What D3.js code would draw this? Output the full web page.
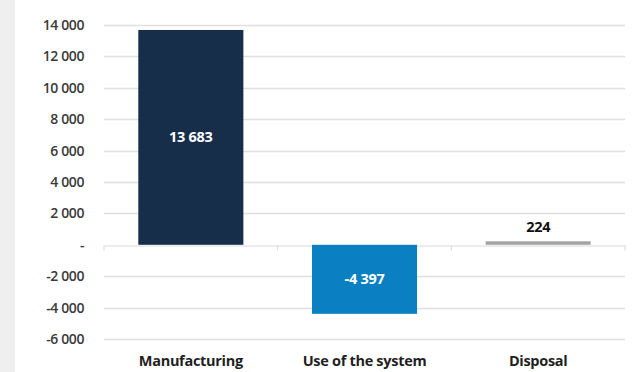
<!DOCTYPE html>
<html>
<head>
<meta charset="utf-8">
<script src="https://cdn.jsdelivr.net/npm/d3@7/dist/d3.min.js"></script>
<style>
  html, body { margin: 0; padding: 0; background: #ffffff; }
  svg { display: block; }
  text { font-family: "Open Sans", "Lato", sans-serif; }
</style>
</head>
<body>
<svg id="chart" width="643" height="372"></svg>
<script>
// Life-cycle phases and their contributions
const categories = ["Manufacturing", "Use of the system", "Disposal"];
const values = [13683, -4397, 224];
const barColors = ["#172e4b", "#0a80c2", "#a5a5a5"];
const tickValues = [14000, 12000, 10000, 8000, 6000, 4000, 2000, 0, -2000, -4000, -6000];

const width = 643, height = 372;
const margin = { top: 25, right: 18, bottom: 33, left: 104 };

const svg = d3.select("#chart");

// light side panel on the left
svg.append("rect")
  .attr("x", 0).attr("y", 0)
  .attr("width", 15).attr("height", height)
  .attr("fill", "#efefef");

const x = d3.scaleBand()
  .domain(categories)
  .range([margin.left, width - margin.right])
  .paddingInner(0.395)
  .paddingOuter(0.1975);

const y = d3.scaleLinear()
  .domain([-6000, 14000])
  .range([height - margin.bottom, margin.top]);

// thousands separated by a space, zero shown as a dash, plain hyphen for negatives
const fmt = v => v === 0 ? "-" : d3.format(",")(v).replace(/,/g, " ").replace(/\u2212/g, "-");

// gridlines
svg.append("g")
  .selectAll("line")
  .data(tickValues.filter(v => v !== 0))
  .join("line")
  .attr("x1", margin.left)
  .attr("x2", width - margin.right)
  .attr("y1", d => Math.round(y(d)) + 0.5)
  .attr("y2", d => Math.round(y(d)) + 0.5)
  .attr("stroke", "#e0e0e0")
  .attr("stroke-width", 1.3);

// y axis labels
const yAxis = d3.axisLeft(y)
  .tickValues(tickValues)
  .tickSize(0)
  .tickPadding(0)
  .tickFormat(fmt);

const yg = svg.append("g")
  .attr("transform", `translate(${margin.left - 20},0)`)
  .call(yAxis);
yg.select(".domain").remove();
yg.selectAll("text")
  .attr("fill", "#3a3a3a")
  .attr("font-size", 14)
  .attr("font-weight", 600)
  .style("letter-spacing", "-0.4px");

// zero axis with category ticks (drawn under the bars)
const xAxis = d3.axisBottom(x).tickSize(0).tickFormat("");
const xg = svg.append("g")
  .attr("transform", `translate(0,${Math.round(y(0)) + 0.5})`)
  .call(xAxis);
xg.select(".domain").attr("stroke", "#d9d9d9");
const bounds = [margin.left, ...categories.map(c => x(c) + x.bandwidth() + x.step() * x.paddingInner() / 2)];
bounds[bounds.length - 1] = width - margin.right;
xg.selectAll(".bound")
  .data(bounds)
  .join("line")
  .attr("class", "bound")
  .attr("x1", d => d).attr("x2", d => d)
  .attr("y1", 0).attr("y2", 5)
  .attr("stroke", "#d9d9d9");

// bars
svg.append("g")
  .selectAll("rect")
  .data(categories)
  .join("rect")
  .attr("x", d => x(d))
  .attr("width", x.bandwidth())
  .attr("y", (d, i) => y(Math.max(0, values[i])))
  .attr("height", (d, i) => Math.abs(y(values[i]) - y(0)))
  .attr("fill", (d, i) => barColors[i]);

// category labels
svg.append("g")
  .selectAll("text")
  .data(categories)
  .join("text")
  .attr("x", d => x(d) + x.bandwidth() / 2)
  .attr("y", height - 6)
  .attr("text-anchor", "middle")
  .attr("font-size", 14.5)
  .attr("font-weight", 700)
  .attr("fill", "#1f1f1f")
  .style("letter-spacing", "-0.3px")
  .text(d => d);

// value labels
svg.append("g")
  .selectAll("text")
  .data(categories)
  .join("text")
  .attr("x", d => x(d) + x.bandwidth() / 2)
  .attr("y", (d, i) => {
    const v = values[i];
    if (Math.abs(y(v) - y(0)) > 30) return (y(v) + y(0)) / 2 + 5;
    return y(v) - 9;
  })
  .attr("text-anchor", "middle")
  .attr("font-size", 14.5)
  .attr("font-weight", 700)
  .attr("fill", (d, i) => Math.abs(y(values[i]) - y(0)) > 30 ? "#ffffff" : "#111111")
  .style("letter-spacing", "-0.3px")
  .text((d, i) => fmt(values[i]));
</script>
</body>
</html>
